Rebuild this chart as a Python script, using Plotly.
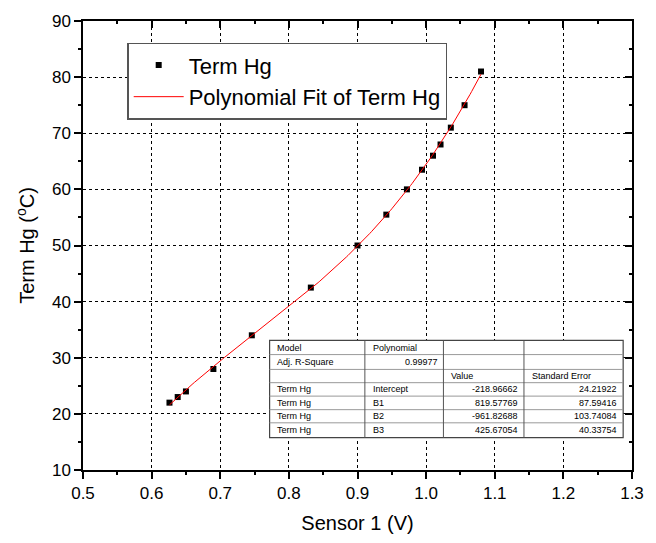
import numpy as np
import plotly.graph_objects as go

# ---- data ----
sensor_v = [0.626, 0.638, 0.650, 0.690, 0.746, 0.832, 0.900, 0.942, 0.972, 0.994, 1.010, 1.021, 1.036, 1.056, 1.080]
term_hg = [22, 23, 24, 28, 34, 42.5, 50, 55.5, 60, 63.5, 66, 68, 71, 75, 81]

# polynomial fit coefficients (from the chart's table): intercept, B1, B2, B3
fit_coef = [-218.96662, 819.57769, -961.82688, 425.67054]
fit_err = [24.21922, 87.59416, 103.74084, 40.33754]
adj_r2 = 0.99977

table_rows = [
    ["Model", "Polynomial", "", ""],
    ["Adj. R-Square", f"{adj_r2:.5f}", "", ""],
    ["", "", "Value", "Standard Error"],
    ["Term Hg", "Intercept", f"{fit_coef[0]:.5f}", f"{fit_err[0]:.5f}"],
    ["Term Hg", "B1", f"{fit_coef[1]:.5f}", f"{fit_err[1]:.5f}"],
    ["Term Hg", "B2", f"{fit_coef[2]:.5f}", f"{fit_err[2]:.5f}"],
    ["Term Hg", "B3", f"{fit_coef[3]:.5f}", f"{fit_err[3]:.5f}"],
]

# fit curve evaluated from the model coefficients
xf = np.linspace(min(sensor_v), max(sensor_v), 200)
yf = np.polyval(fit_coef[::-1], xf)

W, H = 656, 543
L, R, T, B = 83, 14, 17, 72
pw, ph = W - L - R, H - T - B

def px(xp):
    return (xp - L) / pw

def py(yp):
    return (H - B - yp) / ph

FONT = "Liberation Sans, Arial, sans-serif"

fig = go.Figure()
fig.add_trace(go.Scatter(x=sensor_v, y=term_hg, mode="markers", name="Term Hg",
                         marker=dict(symbol="square", size=6, color="black")))
fig.add_trace(go.Scatter(x=xf, y=yf, mode="lines", name="Polynomial Fit of Term Hg",
                         line=dict(color="red", width=1)))
# empty trace to create mirrored top/right axes
fig.add_trace(go.Scatter(x=[0.5], y=[10], xaxis="x2", yaxis="y2", showlegend=False,
                         mode="markers", marker=dict(opacity=0), hoverinfo="skip"))

axis_common = dict(showline=True, linecolor="black", linewidth=1.5, zeroline=False,
                   tickfont=dict(size=17, color="black", family=FONT),
                   ticks="outside", ticklen=7, tickwidth=1.5, tickcolor="black",
                   showgrid=True, gridcolor="black", griddash="dot", gridwidth=1)

fig.update_layout(
    width=W, height=H,
    margin=dict(l=L, r=R, t=T, b=B),
    paper_bgcolor="white", plot_bgcolor="white",
    font=dict(family=FONT, color="black"),
    xaxis=dict(range=[0.5, 1.3], dtick=0.1, tickformat=".1f",
               minor=dict(dtick=0.05, ticks="outside", ticklen=3.5, tickwidth=1.5, tickcolor="black", showgrid=False),
               title=dict(text="Sensor 1 (V)", font=dict(size=20), standoff=14),
               **axis_common),
    yaxis=dict(range=[10, 90], dtick=10,
               minor=dict(dtick=5, ticks="outside", ticklen=3.5, tickwidth=1.5, tickcolor="black", showgrid=False),
               title=dict(text="Term Hg (<sup>o</sup>C)", font=dict(size=20), standoff=12),
               **axis_common),
    xaxis2=dict(range=[0.5, 1.3], dtick=0.1, overlaying="x", side="top", anchor="y2",
                showline=True, linecolor="black", linewidth=1.5, showticklabels=False,
                ticks="inside", ticklen=7, tickwidth=1.5, tickcolor="black", showgrid=False, zeroline=False,
                minor=dict(dtick=0.05, ticks="inside", ticklen=3.5, tickwidth=1.5, tickcolor="black")),
    yaxis2=dict(range=[10, 90], dtick=10, overlaying="y", side="right", anchor="x2",
                showline=True, linecolor="black", linewidth=1.5, showticklabels=False,
                ticks="inside", ticklen=7, tickwidth=1.5, tickcolor="black", showgrid=False, zeroline=False,
                minor=dict(dtick=5, ticks="inside", ticklen=3.5, tickwidth=1.5, tickcolor="black")),
    legend=dict(x=px(128), y=py(39), xanchor="left", yanchor="top",
                bgcolor="white", bordercolor="#555555", borderwidth=1.5,
                font=dict(size=22, family=FONT, color="black"),
                tracegroupgap=0, itemwidth=50),
    showlegend=True,
)

# ---- fit results table ----
col_x = [273, 370, 450, 532, 633]
row_y = [340, 354.3, 369.3, 382.7, 396.3, 410, 423.3, 438.3]
shapes = []
shapes.append(dict(type="rect", xref="paper", yref="paper",
                   x0=px(col_x[0]), x1=px(col_x[-1]), y0=py(row_y[-1]), y1=py(row_y[0]),
                   fillcolor="white", line=dict(color="#444444", width=1.2), layer="above"))
for yy in row_y[1:-1]:
    shapes.append(dict(type="line", xref="paper", yref="paper",
                       x0=px(col_x[0]), x1=px(col_x[-1]), y0=py(yy), y1=py(yy),
                       line=dict(color="#999999", width=1), layer="above"))
for xx in col_x[1:-1]:
    shapes.append(dict(type="line", xref="paper", yref="paper",
                       x0=px(xx), x1=px(xx), y0=py(row_y[-1]), y1=py(row_y[0]),
                       line=dict(color="#555555", width=1), layer="above"))

annotations = []
pad = 6
for ri, row in enumerate(table_rows):
    yc = (row_y[ri] + row_y[ri + 1]) / 2
    for ci, txt in enumerate(row):
        if not txt:
            continue
        numeric = txt.lstrip("-").replace(".", "").isdigit()
        if numeric:
            xa, anchor = col_x[ci + 1] - 4, "right"
        else:
            xa, anchor = col_x[ci] + pad, "left"
        annotations.append(dict(text=txt, xref="paper", yref="paper", x=px(xa), y=py(yc),
                                xanchor=anchor, yanchor="middle", showarrow=False,
                                font=dict(size=9, family=FONT, color="black")))

fig.update_layout(shapes=shapes, annotations=annotations)

fig.write_html("out.html")
